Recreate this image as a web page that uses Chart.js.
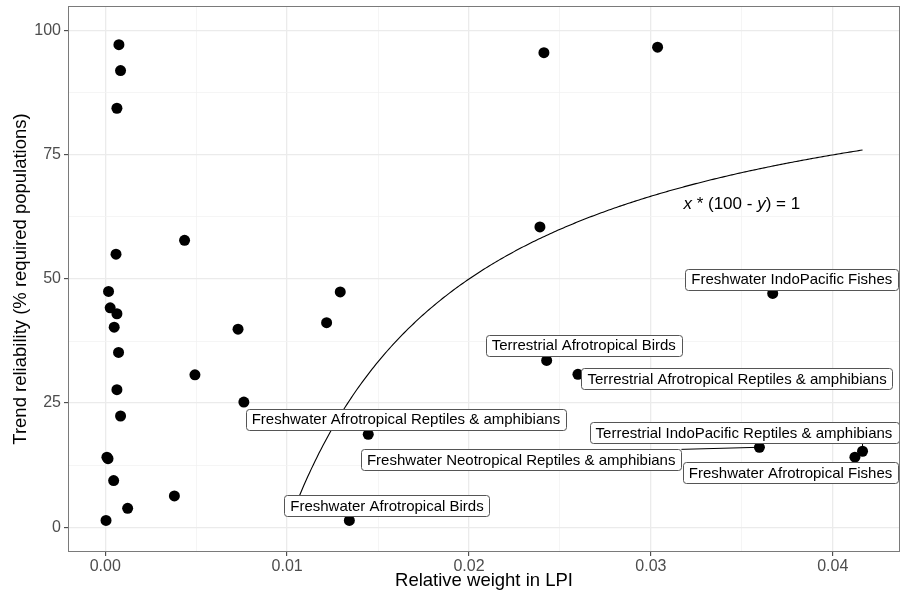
<!DOCTYPE html>
<html><head><meta charset="utf-8">
<script src="https://cdn.jsdelivr.net/npm/chart.js@4"></script>
<style>html,body{margin:0;padding:0;background:#fff;}canvas{display:block;}</style>
</head><body>
<canvas id="c" width="903" height="594"></canvas>
<script>
// ---- data ----
const weight = [0.00075,0.00084,0.00064,0.00436,0.00059,0.00018,0.00027,0.00064,0.00049,0.0073,
  0.00073,0.00493,0.00064,0.00762,0.00084,0.00009,0.00015,0.00046,0.0038,0.00123,0.00004,
  0.02412,0.03037,0.0239,0.01292,0.01217,
  0.01446,0.01342,0.02427,0.02599,0.0367,0.03597,0.04164,0.04122];
const reliability = [97.2,92.0,84.4,57.8,55.0,47.5,44.2,43.0,40.3,39.9,
  35.2,30.7,27.7,25.2,22.4,14.1,13.8,9.4,6.3,3.8,1.35,
  95.6,96.7,60.5,47.4,41.2,
  18.7,1.35,33.6,30.8,47.1,16.1,15.3,14.1];
const labelNames = ["","","","","","","","","","","","","","","","","","","","","",
  "","","","","",
  "Freshwater Afrotropical Reptiles & amphibians","Freshwater Afrotropical Birds",
  "Terrestrial Afrotropical Birds","Terrestrial Afrotropical Reptiles & amphibians",
  "Freshwater IndoPacific Fishes","Freshwater Neotropical Reptiles & amphibians",
  "Terrestrial IndoPacific Reptiles & amphibians","Freshwater Afrotropical Fishes"];
// repelled label centres, in data units
const labelX = {26:0.01653,27:0.01549,28:0.02631,29:0.03474,30:0.03775,31:0.02287,32:0.03512,33:0.03768};
const labelY = {26:21.77,27:4.38,28:36.65,29:29.94,30:50.0,31:13.56,32:19.04,33:11.0};
const xTicks = [0,0.01,0.02,0.03,0.04];
const xGrid = [0,0.005,0.01,0.015,0.02,0.025,0.03,0.035,0.04];
const yTicks = [0,25,50,75,100];
const yGrid = [0,12.5,25,37.5,50,62.5,75,87.5,100];
const xMin = -0.00205, xMax = 0.0437, yMin = -5, yMax = 105;
const curveK = 1, curveTotal = 100, curveFrom = 0.0104, curveTo = 0.04164;
const curveLabelX = 0.035, curveLabelY = 65;
const xTitle = "Relative weight in LPI";
const yTitle = "Trend reliability (% required populations)";

const FONT = '"Liberation Sans", Arial, Helvetica, sans-serif';
Chart.defaults.font.family = FONT;
const near = (arr, v) => arr.some(t => Math.abs(t - v) < 1e-9);

const extras = {
  id: 'extras',
  beforeDatasetsDraw(chart) {
    const {ctx, chartArea: a, scales: {x, y}} = chart;
    ctx.save();
    ctx.beginPath(); ctx.rect(a.left, a.top, a.right - a.left, a.bottom - a.top); ctx.clip();
    ctx.beginPath();
    const n = 300;
    for (let i = 0; i <= n; i++) {
      const xv = curveFrom + (curveTo - curveFrom) * i / n;
      const yv = curveTotal - curveK / xv;
      const px = x.getPixelForValue(xv), py = y.getPixelForValue(yv);
      if (i === 0) ctx.moveTo(px, py); else ctx.lineTo(px, py);
    }
    ctx.strokeStyle = '#000'; ctx.lineWidth = 1.1; ctx.stroke();
    ctx.restore();
  },
  afterDatasetsDraw(chart) {
    const {ctx, scales: {x, y}} = chart;
    ctx.save();
    ctx.font = '15px ' + FONT;
    const boxes = [];
    labelNames.forEach((name, i) => {
      if (!name) return;
      const cx = x.getPixelForValue(labelX[i]), cy = y.getPixelForValue(labelY[i]);
      const tw = ctx.measureText(name).width;
      const w = tw + 12, h = 21;
      boxes.push({name, x1: cx - w / 2, y1: cy - h / 2, w, h, cx, cy,
        px: x.getPixelForValue(weight[i]), py: y.getPixelForValue(reliability[i])});
    });
    // segments
    ctx.strokeStyle = '#000'; ctx.lineWidth = 1;
    boxes.forEach(b => {
      const ax = Math.min(Math.max(b.px, b.x1), b.x1 + b.w);
      const ay = Math.min(Math.max(b.py, b.y1), b.y1 + b.h);
      const d = Math.hypot(b.px - ax, b.py - ay);
      if (d < 3) return;
      ctx.beginPath(); ctx.moveTo(b.px, b.py); ctx.lineTo(ax, ay); ctx.stroke();
    });
    // boxes
    boxes.forEach(b => {
      ctx.beginPath();
      ctx.roundRect(Math.round(b.x1) + 0.5, Math.round(b.y1) + 0.5, Math.round(b.w), Math.round(b.h), 3);
      ctx.fillStyle = '#fff'; ctx.fill();
      ctx.strokeStyle = '#555'; ctx.lineWidth = 1; ctx.stroke();
      ctx.fillStyle = '#000'; ctx.textAlign = 'center'; ctx.textBaseline = 'middle';
      ctx.fillText(b.name, b.cx, b.cy + 1);
    });
    // curve annotation
    const parts = [['x', true], [' * (100 - ', false], ['y', true], [') = 1', false]];
    let total = 0;
    parts.forEach(p => { ctx.font = (p[1] ? 'italic ' : '') + '17px ' + FONT; total += ctx.measureText(p[0]).width; });
    let sx = x.getPixelForValue(curveLabelX) - total / 2;
    const sy = y.getPixelForValue(curveLabelY);
    ctx.textAlign = 'left'; ctx.textBaseline = 'middle'; ctx.fillStyle = '#000';
    parts.forEach(p => {
      ctx.font = (p[1] ? 'italic ' : '') + '17px ' + FONT;
      ctx.fillText(p[0], sx, sy);
      sx += ctx.measureText(p[0]).width;
    });
    ctx.restore();
  },
  afterDraw(chart) {
    const {ctx, chartArea: a} = chart;
    ctx.save();
    ctx.strokeStyle = '#7a7a7a'; ctx.lineWidth = 1;
    ctx.strokeRect(Math.round(a.left) + 0.5, Math.round(a.top) + 0.5, Math.round(a.right - a.left) - 1, Math.round(a.bottom - a.top) - 1);
    ctx.fillStyle = '#000';
    ctx.font = '18.5px ' + FONT;
    ctx.textAlign = 'center'; ctx.textBaseline = 'middle';
    ctx.fillText(xTitle, (a.left + a.right) / 2, 581);
    ctx.translate(21, (a.top + a.bottom) / 2);
    ctx.rotate(-Math.PI / 2);
    ctx.fillText(yTitle, 0, 0);
    ctx.restore();
  }
};

const noPad = s => { s.paddingTop = 0; s.paddingBottom = 0; s.paddingLeft = 0; s.paddingRight = 0; };

new Chart(document.getElementById('c'), {
  type: 'scatter',
  data: { datasets: [{
    data: weight.map((w, i) => ({x: w, y: reliability[i]})),
    backgroundColor: '#000', borderColor: '#000', borderWidth: 0,
    pointRadius: 5.5, pointHoverRadius: 5.5
  }]},
  options: {
    responsive: false, animation: false, devicePixelRatio: 1, events: [],
    layout: {autoPadding: false, padding: {left: 0, right: 3, top: 6, bottom: 0}},
    plugins: {legend: {display: false}, tooltip: {enabled: false}},
    scales: {
      x: {
        type: 'linear', min: xMin, max: xMax,
        afterBuildTicks: s => { s.ticks = xGrid.map(v => ({value: v})); },
        afterFit: s => { s.height = 42; noPad(s); },
        ticks: {autoSkip: false, maxRotation: 0, minRotation: 0, color: '#4d4d4d', font: {size: 16}, padding: 1,
          callback: v => near(xTicks, v) ? v.toFixed(2) : ''},
        grid: {
          color: c => near(xTicks, c.tick.value) ? '#ebebeb' : '#f3f3f3',
          lineWidth: c => near(xTicks, c.tick.value) ? 1.3 : 0.8,
          tickColor: c => near(xTicks, c.tick.value) ? '#333' : 'rgba(0,0,0,0)',
          tickLength: 4, tickWidth: 1, drawTicks: true
        },
        border: {display: false}
      },
      y: {
        type: 'linear', min: yMin, max: yMax,
        afterBuildTicks: s => { s.ticks = yGrid.map(v => ({value: v})); },
        afterFit: s => { s.width = 68; noPad(s); },
        ticks: {autoSkip: false, color: '#4d4d4d', font: {size: 16}, padding: 3,
          callback: v => near(yTicks, v) ? String(v) : ''},
        grid: {
          color: c => near(yTicks, c.tick.value) ? '#ebebeb' : '#f3f3f3',
          lineWidth: c => near(yTicks, c.tick.value) ? 1.3 : 0.8,
          tickColor: c => near(yTicks, c.tick.value) ? '#333' : 'rgba(0,0,0,0)',
          tickLength: 4, tickWidth: 1, drawTicks: true
        },
        border: {display: false}
      }
    }
  },
  plugins: [extras]
});
</script>
</body></html>
